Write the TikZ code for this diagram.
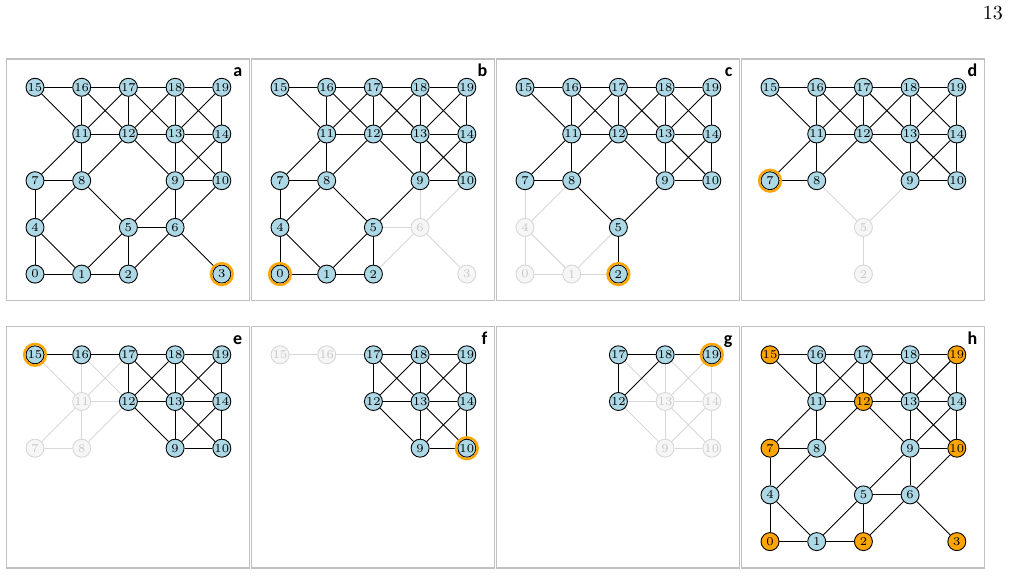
\documentclass[tikz,border=0pt]{standalone}
\usepackage{fontspec}
\newfontfamily\labfont{Carlito}
\pgfdeclarelayer{background}
\pgfsetlayers{background,main}
\definecolor{nodeblue}{RGB}{173,216,230}
\definecolor{nodeorange}{RGB}{255,165,0}
\definecolor{hlorange}{RGB}{255,165,0}
\definecolor{framegray}{RGB}{192,192,192}
\definecolor{fadeline}{RGB}{215,215,215}
\definecolor{fadefill}{RGB}{246,246,246}
\definecolor{fadetext}{RGB}{200,200,200}
\tikzset{
  basenode/.style={circle,minimum size=9pt,inner sep=0pt,line width=0.45pt,font=\fontsize{6}{7}\selectfont},
  actnode/.style={basenode,draw=black,fill=nodeblue},
  orgnode/.style={basenode,draw=black,fill=nodeorange},
  fadenode/.style={basenode,draw=fadeline,fill=fadefill,text=fadetext},
  actedge/.style={draw=black,line width=0.45pt},
  fadeedge/.style={draw=fadeline,line width=0.45pt},
  hlring/.style={draw=hlorange,line width=1.2pt},
  panelframe/.style={draw=framegray,line width=0.6pt},
  panellabel/.style={anchor=base east,inner sep=0pt,font=\labfont\bfseries\fontsize{9}{10}\selectfont}
}
\makeatletter
\newcommand\rktestin[2]{\edef\rk@tmp{\noexpand\in@{,#1,}{,#2,}}\rk@tmp}
% #1 prefix/label, #2 col, #3 row, #4 hidden, #5 faded, #6 highlight, #7 orange, #8 forced faded edges, #9 forced hidden edges
\newcommand\drawpanel[9]{%
  \begin{scope}[shift={({245*#2},{267.5*#3})}]
    \node[panellabel] (lab#1) at (242.7,76.7) {#1};
    \foreach \n/\i/\j in {0/0/0,1/1/0,2/2/0,3/4/0,4/0/1,5/2/1,6/3/1,7/0/2,8/1/2,9/3/2,10/4/2,11/1/3,12/2/3,13/3/3,14/4/3,15/0/4,16/1/4,17/2/4,18/3/4,19/4/4}{%
      \rktestin{\n}{#4}\ifin@\def\rkvis{0}\else\def\rkvis{1}\fi
      \rktestin{\n}{#5}\ifin@\def\rksty{fadenode}\else\def\rksty{actnode}\fi
      \rktestin{\n}{#7}\ifin@\def\rksty{orgnode}\fi
      \if1\rkvis
        \node[\rksty] (#1\n) at ({35+46.7*\i},{87.3+46.7*(4-\j)}) {\n};
      \fi
    }
    \begin{pgfonlayer}{background}
    \draw[panelframe] (6.7,59) rectangle (249.2,300.5);
    \foreach \u/\v in {15/16,16/17,17/18,18/19,15/11,16/11,16/12,17/11,17/12,17/13,18/12,18/13,18/14,19/13,19/14,11/12,12/13,13/14,11/7,11/8,12/8,12/9,13/9,13/10,14/9,14/10,7/8,9/10,7/4,8/4,8/5,9/5,9/6,10/6,5/6,4/0,4/1,5/1,5/2,6/2,6/3,0/1,1/2}{%
      \def\rkhide{0}\def\rkfade{0}%
      \rktestin{\u}{#4}\ifin@\def\rkhide{1}\fi
      \rktestin{\v}{#4}\ifin@\def\rkhide{1}\fi
      \rktestin{\u-\v}{#9}\ifin@\def\rkhide{1}\fi
      \rktestin{\u}{#5}\ifin@\def\rkfade{1}\fi
      \rktestin{\v}{#5}\ifin@\def\rkfade{1}\fi
      \rktestin{\u-\v}{#8}\ifin@\def\rkfade{1}\fi
      \if0\rkhide
        \if1\rkfade
          \draw[fadeedge] (#1\u) -- (#1\v);
        \else
          \draw[actedge] (#1\u) -- (#1\v);
        \fi
      \fi
    }
    \end{pgfonlayer}
    \if\relax\detokenize{#6}\relax\else
      \draw[hlring] (#1#6.center) circle (5.45pt);
    \fi
  \end{scope}
}
\makeatother
\begin{document}
\begin{tikzpicture}[x=0.5pt,y=-0.5pt]
\useasboundingbox (0,0) rectangle (1010,576);
\node[anchor=base east,inner sep=0pt,font=\fontsize{10}{12}\selectfont] (pagenum) at (1003.3,20) {13};
\drawpanel{a}{0}{0}{}{}{3}{}{}{}
\drawpanel{b}{1}{0}{}{3,6}{0}{}{}{}
\drawpanel{c}{2}{0}{3,6}{0,1,4}{2}{}{}{}
\drawpanel{d}{3}{0}{0,1,3,4,6}{2,5}{7}{}{}{}
\drawpanel{e}{0}{1}{0,1,2,3,4,5,6}{7,8,11}{15}{}{16-12}{}
\drawpanel{f}{1}{1}{0,1,2,3,4,5,6,7,8,11}{15,16}{10}{}{}{16-12}
\drawpanel{g}{2}{1}{0,1,2,3,4,5,6,7,8,11,15,16}{9,10,13,14}{19}{}{}{}
\drawpanel{h}{3}{1}{}{}{}{0,2,3,7,10,12,15,19}{}{}
\end{tikzpicture}
\end{document}
